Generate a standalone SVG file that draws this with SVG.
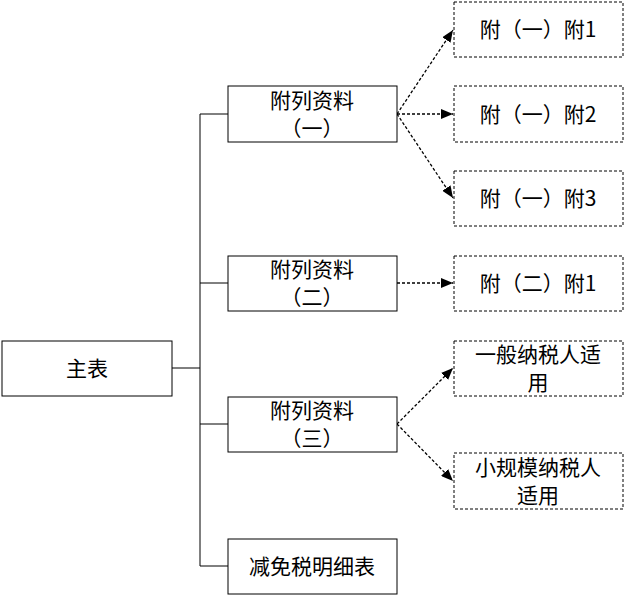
<svg xmlns="http://www.w3.org/2000/svg" width="625" height="596" viewBox="0 0 625 596">
<style>
.b{fill:#fff;stroke:#000;stroke-width:1}
.d{fill:#fff;stroke:#000;stroke-width:1;stroke-dasharray:3,2}
.t{font-family:"Noto Sans CJK SC",sans-serif;font-size:21px;fill:#000;text-anchor:middle}
.c{fill:none;stroke:#000;stroke-width:1}
.a{fill:none;stroke:#000;stroke-width:1.3;stroke-dasharray:3,2;marker-end:url(#ar)}
</style>
<defs><marker id="ar" markerWidth="12" markerHeight="10" refX="12" refY="5" orient="auto" markerUnits="userSpaceOnUse"><path d="M0,0L12,5L0,10Z" fill="#000"/></marker></defs>
<rect width="625" height="596" fill="#fff"/>
<g id="connectors">
<path class="c" d="M172,368H200M200,114V566M200,114H228M200,283H228M200,424H228M200,566H228"/>
<path class="a" d="M397,114L453,30"/>
<path class="a" d="M397,114H453"/>
<path class="a" d="M397,114L453,198"/>
<path class="a" d="M397,283H453"/>
<path class="a" d="M397,424L453,368"/>
<path class="a" d="M397,424L453,481"/>
</g>
<g id="main"><rect class="b" x="2" y="341" width="170" height="55"/><text class="t" x="87" y="376">主表</text></g>
<g id="f1"><rect class="b" x="228" y="86" width="169" height="56"/><text class="t" x="312" y="108">附列资料</text><text class="t" x="312" y="136">（一）</text></g>
<g id="f2"><rect class="b" x="228" y="256" width="169" height="55"/><text class="t" x="312" y="277">附列资料</text><text class="t" x="312" y="305">（二）</text></g>
<g id="f3"><rect class="b" x="228" y="397" width="169" height="55"/><text class="t" x="312" y="418">附列资料</text><text class="t" x="312" y="446">（三）</text></g>
<g id="jm"><rect class="b" x="228" y="539" width="169" height="55"/><text class="t" x="312" y="574">减免税明细表</text></g>
<g id="r1"><rect class="d" x="454" y="2" width="169" height="55"/><text class="t" x="538" y="37">附（一）附1</text></g>
<g id="r2"><rect class="d" x="454" y="86" width="169" height="56"/><text class="t" x="538" y="122">附（一）附2</text></g>
<g id="r3"><rect class="d" x="454" y="171" width="169" height="55"/><text class="t" x="538" y="206">附（一）附3</text></g>
<g id="r4"><rect class="d" x="454" y="256" width="169" height="55"/><text class="t" x="538" y="291">附（二）附1</text></g>
<g id="r5"><rect class="d" x="454" y="341" width="169" height="55"/><text class="t" x="538" y="362">一般纳税人适</text><text class="t" x="538" y="390">用</text></g>
<g id="r6"><rect class="d" x="454" y="453" width="169" height="56"/><text class="t" x="538" y="475">小规模纳税人</text><text class="t" x="538" y="503">适用</text></g>
</svg>
